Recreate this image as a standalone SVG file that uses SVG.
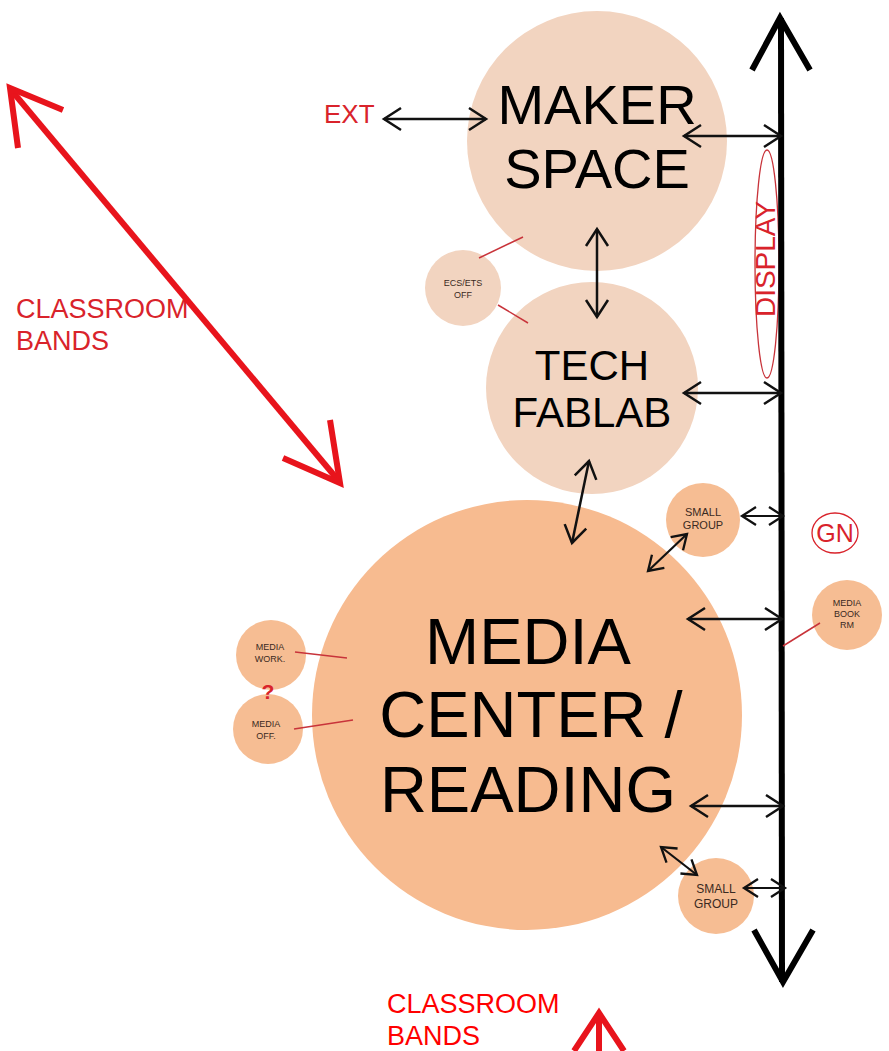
<svg xmlns="http://www.w3.org/2000/svg" width="889" height="1051" viewBox="0 0 889 1051">
<style>
.lt{fill:#F2D4C0}
.md{fill:#F7BB90}
.sm{fill:#F6BD93}
.big{font-family:"Liberation Sans",Arial,sans-serif;fill:#000;text-anchor:middle}
.tiny{font-family:"Liberation Sans",Arial,sans-serif;fill:#3a2a22;text-anchor:middle}
.red{font-family:"Liberation Sans",Arial,sans-serif;fill:#D9232B}
.conn{fill:none;stroke:#111;stroke-width:2.5;marker-start:url(#ah);marker-end:url(#ah)}
.conns{fill:none;stroke:#111;stroke-width:2.2;marker-start:url(#ahs);marker-end:url(#ahs)}
.lead{stroke:#C8333A;stroke-width:1.5}
.redarrow{fill:none;stroke:#E8141C;stroke-width:6;stroke-linecap:butt;stroke-linejoin:miter}
</style>
<defs>
<marker id="ah" viewBox="-22 -14 26 28" refX="0" refY="0" markerWidth="26" markerHeight="28" markerUnits="userSpaceOnUse" orient="auto-start-reverse" overflow="visible">
<path d="M-17,-11 L0,0 L-17,11" fill="none" stroke="#111" stroke-width="2.5"/>
</marker>
<marker id="ahs" viewBox="-18 -12 22 24" refX="0" refY="0" markerWidth="22" markerHeight="24" markerUnits="userSpaceOnUse" orient="auto-start-reverse" overflow="visible">
<path d="M-14,-9 L0,0 L-14,9" fill="none" stroke="#111" stroke-width="2.3"/>
</marker>
</defs>
<rect width="889" height="1051" fill="#fff"/>

<g id="maker-space">
<circle class="lt" cx="597" cy="141" r="130"/>
<text class="big" x="597" y="124" font-size="56">MAKER</text>
<text class="big" x="597" y="188" font-size="56">SPACE</text>
</g>

<g id="tech-fablab">
<circle class="lt" cx="592" cy="388" r="106"/>
<text class="big" x="592" y="380" font-size="42">TECH</text>
<text class="big" x="592" y="427" font-size="42">FABLAB</text>
</g>

<g id="ecs-ets-off">
<circle class="lt" cx="463" cy="288" r="38"/>
<text class="tiny" x="463" y="286" font-size="9">ECS/ETS</text>
<text class="tiny" x="463" y="298" font-size="9">OFF</text>
</g>

<g id="media-center">
<circle class="md" cx="527" cy="715" r="215"/>
<text class="big" x="528" y="664" font-size="65">MEDIA</text>
<text class="big" x="531" y="737" font-size="65">CENTER /</text>
<text class="big" x="528" y="812" font-size="65">READING</text>
</g>

<g id="small-group-1">
<circle class="sm" cx="703" cy="520" r="37"/>
<text class="tiny" x="703" y="516" font-size="11">SMALL</text>
<text class="tiny" x="703" y="529" font-size="11">GROUP</text>
</g>

<g id="small-group-2">
<circle class="sm" cx="716" cy="896" r="38"/>
<text class="tiny" x="716" y="893" font-size="12">SMALL</text>
<text class="tiny" x="716" y="908" font-size="12">GROUP</text>
</g>

<g id="media-book-rm">
<circle class="sm" cx="847" cy="615" r="35"/>
<text class="tiny" x="847" y="606" font-size="9">MEDIA</text>
<text class="tiny" x="847" y="617" font-size="9">BOOK</text>
<text class="tiny" x="847" y="628" font-size="9">RM</text>
</g>

<g id="media-work">
<circle class="sm" cx="271" cy="655" r="35"/>
<text class="tiny" x="270" y="650" font-size="9">MEDIA</text>
<text class="tiny" x="270" y="662" font-size="9">WORK.</text>
</g>

<g id="media-off">
<circle class="sm" cx="268" cy="729" r="35"/>
<text class="tiny" x="266" y="727" font-size="9">MEDIA</text>
<text class="tiny" x="266" y="739" font-size="9">OFF.</text>
</g>

<g id="question">
<text class="red" x="268" y="699" font-size="21" font-weight="bold" text-anchor="middle">?</text>
</g>

<g id="gn">
<ellipse cx="835" cy="533" rx="23" ry="20" fill="none" stroke="#D9232B" stroke-width="1.3"/>
<text class="red" x="835" y="542" font-size="25" text-anchor="middle">GN</text>
</g>

<g id="ext">
<text class="red" x="324" y="123" font-size="26">EXT</text>
</g>

<g id="display">
<ellipse cx="767" cy="264" rx="12" ry="114" fill="none" stroke="#C8333A" stroke-width="1.3"/>
<text class="red" transform="translate(775,259) rotate(-90)" font-size="28" text-anchor="middle">DISPLAY</text>
</g>

<g id="classroom-bands-left">
<text class="red" x="16" y="318" font-size="27">CLASSROOM</text>
<text class="red" x="16" y="350" font-size="27">BANDS</text>
</g>

<g id="classroom-bands-bottom">
<text x="387" y="1013" font-size="27" font-family="Liberation Sans, Arial, sans-serif" fill="#FF0000">CLASSROOM</text>
<text x="387" y="1045" font-size="27" font-family="Liberation Sans, Arial, sans-serif" fill="#FF0000">BANDS</text>
</g>

<g id="connectors">
<line x1="781" y1="18" x2="782" y2="982" stroke="#000" stroke-width="6"/>
<polyline points="752,70 780,18 810,70" fill="none" stroke="#000" stroke-width="6"/>
<polyline points="754,930 783,982 813,930" fill="none" stroke="#000" stroke-width="6"/>

<line class="conn" x1="384" y1="119" x2="486" y2="119"/>
<line class="conn" x1="684" y1="136" x2="781" y2="136"/>
<line class="conn" x1="597" y1="229" x2="597" y2="317"/>
<line class="conn" x1="684" y1="393" x2="781" y2="393"/>
<line class="conn" x1="589" y1="461" x2="572" y2="543"/>
<line class="conns" x1="742" y1="516" x2="783" y2="516"/>
<line class="conns" x1="648" y1="571" x2="687" y2="534"/>
<line class="conn" x1="688" y1="619" x2="782" y2="619"/>
<line class="conn" x1="691" y1="806" x2="783" y2="806"/>
<line class="conns" x1="661" y1="847" x2="697" y2="875"/>
<line class="conns" x1="744" y1="888" x2="785" y2="888"/>

<line class="lead" x1="479" y1="258" x2="523" y2="237"/>
<line class="lead" x1="498" y1="305" x2="528" y2="323"/>
<line class="lead" x1="295" y1="652" x2="347" y2="658"/>
<line class="lead" x1="294" y1="729" x2="353" y2="720"/>
<line class="lead" x1="783" y1="646" x2="820" y2="623"/>

<line class="redarrow" x1="12" y1="91" x2="338" y2="480"/>
<polyline class="redarrow" points="18,148 10,88 63,110"/>
<polyline class="redarrow" points="330,420 340,483 283,458"/>
<line class="redarrow" x1="599" y1="1014" x2="599" y2="1051"/>
<polyline class="redarrow" points="574,1051 599,1013 624,1051"/>
</g>
</svg>
